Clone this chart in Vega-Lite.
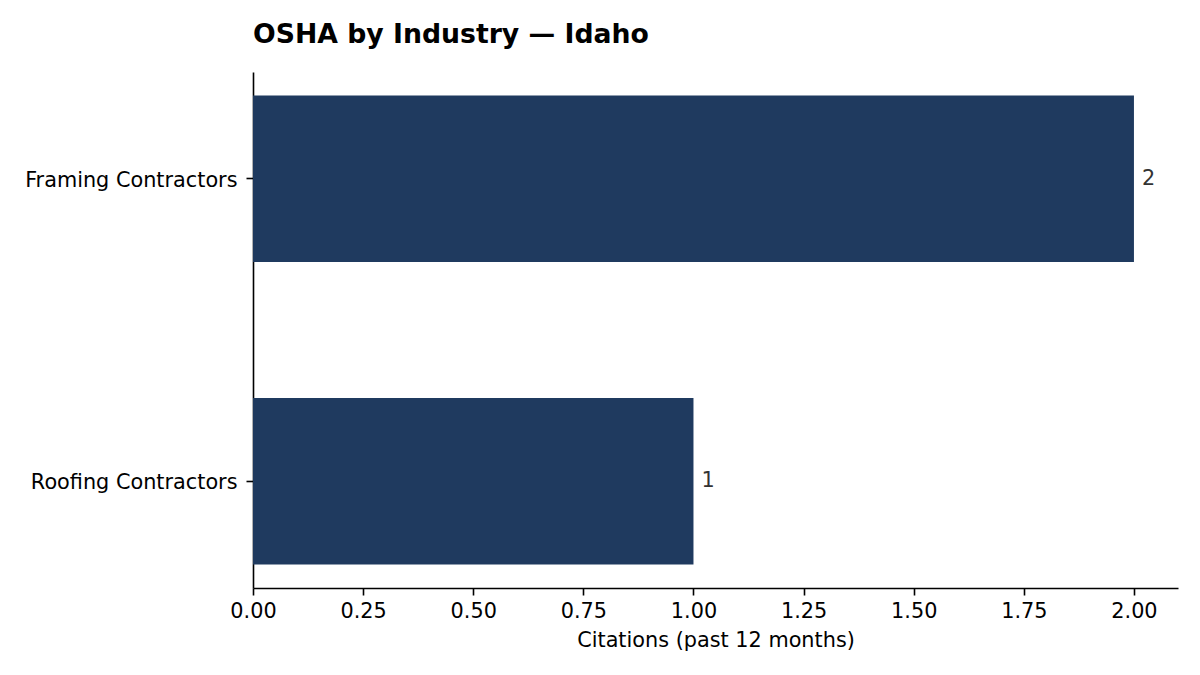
{
  "$schema": "https://vega.github.io/schema/vega-lite/v6.json",
  "description": "OSHA citations by industry in Idaho.",
  "autosize": {"type": "none"},
  "padding": {"left": 253, "top": 72, "right": 22, "bottom": 87},
  "width": 925,
  "height": 516,
  "background": "#ffffff",
  "title": {
    "text": "OSHA by Industry — Idaho",
    "anchor": "start",
    "frame": "group",
    "font": "DejaVu Sans",
    "fontSize": 26.7,
    "fontWeight": "bold",
    "color": "#000000",
    "baseline": "alphabetic",
    "offset": 2
  },
  "data": {
    "values": [
      {"industry": "Framing Contractors", "citations": 2},
      {"industry": "Roofing Contractors", "citations": 1}
    ]
  },
  "encoding": {
    "y": {
      "field": "industry",
      "type": "nominal",
      "sort": null,
      "title": null,
      "scale": {"paddingInner": 0.45, "paddingOuter": 0.0775},
      "axis": {
        "labelFontSize": 20.8,
        "labelPadding": 9,
        "labelOffset": 2,
        "labelLimit": 0,
        "tickSize": 7,
        "labelColor": "#000000"
      }
    },
    "x": {
      "field": "citations",
      "type": "quantitative",
      "title": "Citations (past 12 months)",
      "scale": {"domain": [0, 2.1], "nice": false, "zero": true},
      "axis": {
        "values": [0, 0.25, 0.5, 0.75, 1, 1.25, 1.5, 1.75, 2],
        "format": ".2f",
        "labelFontSize": 20.8,
        "titleFontSize": 20.8,
        "titleFontWeight": "normal",
        "labelPadding": 6,
        "titlePadding": 10,
        "tickSize": 7,
        "grid": false,
        "labelFlush": false,
        "labelColor": "#000000",
        "titleColor": "#000000"
      }
    }
  },
  "layer": [
    {
      "mark": {"type": "bar", "color": "#1f3a5f"}
    },
    {
      "mark": {
        "type": "text",
        "align": "left",
        "baseline": "middle",
        "dx": 8,
        "dy": 0,
        "fontSize": 20.8,
        "font": "DejaVu Sans",
        "color": "#333333"
      },
      "encoding": {"text": {"field": "citations", "type": "quantitative"}}
    }
  ],
  "config": {
    "font": "DejaVu Sans",
    "view": {"stroke": null},
    "axis": {
      "domainColor": "#000000",
      "domainWidth": 1.6,
      "tickColor": "#000000",
      "tickWidth": 1.6,
      "labelFont": "DejaVu Sans",
      "titleFont": "DejaVu Sans",
      "grid": false
    }
  }
}
